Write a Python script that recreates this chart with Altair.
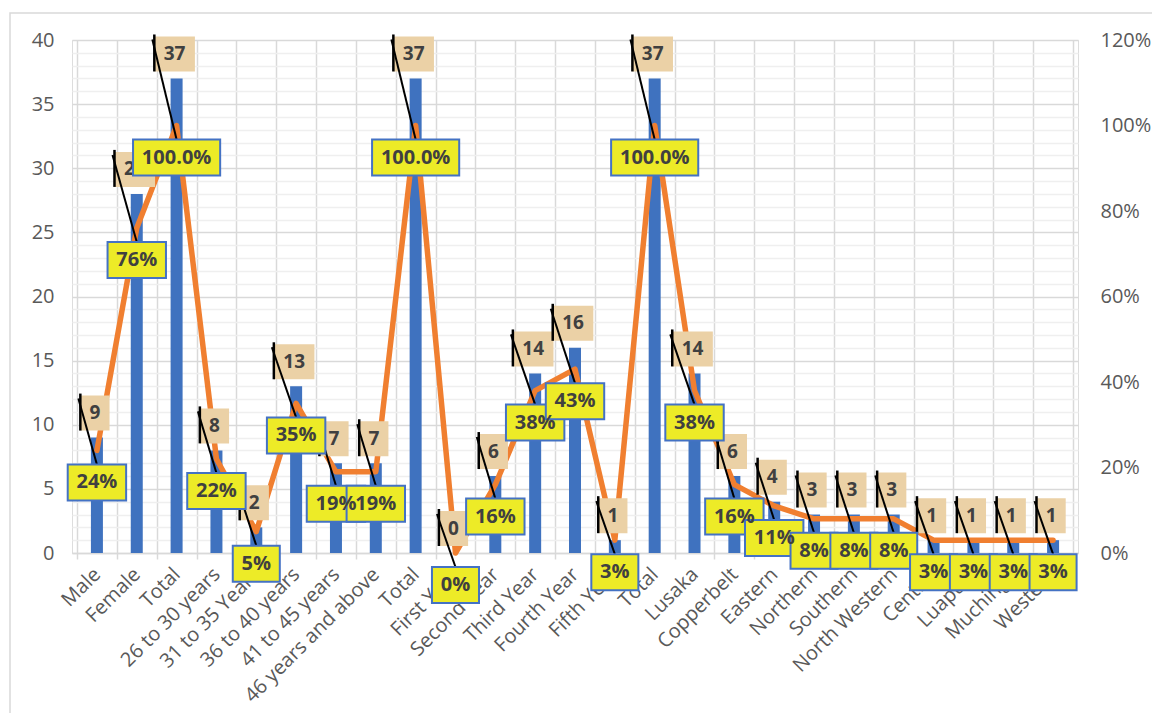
import json
import altair as alt
import pandas as pd

categories = ["Male", "Female", "Total", "26 to 30 years", "31 to 35 Years",
              "36 to 40 years", "41 to 45 years", "46 years and above", "Total",
              "First Year", "Second Year", "Third Year", "Fourth Year", "Fifth Year",
              "Total", "Lusaka", "Copperbelt", "Eastern", "Northern", "Southern",
              "North Western", "Central", "Luapula", "Muchinga", "Western"]
counts = [9, 28, 37, 8, 2, 13, 7, 7, 37, 0, 6, 14, 16, 1, 37, 14, 6, 4, 3, 3, 3, 1, 1, 1, 1]
shares = [0.24, 0.76, 1.00, 0.22, 0.05, 0.35, 0.19, 0.19, 1.00, 0.00, 0.16, 0.38, 0.43,
          0.03, 1.00, 0.38, 0.16, 0.11, 0.08, 0.08, 0.08, 0.03, 0.03, 0.03, 0.03]
share_labels = ["24%", "76%", "100.0%", "22%", "5%", "35%", "19%", "19%", "100.0%", "0%",
                "16%", "38%", "43%", "3%", "100.0%", "38%", "16%", "11%", "8%", "8%", "8%",
                "3%", "3%", "3%", "3%"]

W, H = 1006, 513
N = len(categories)
Y_MAX = 40
SHARE_MAX = 1.2
PX_X = W / N
PX_Y = H / Y_MAX

FONT = "Open Sans"
GREY = "#595959"
BAR = "#3F72BF"
ORANGE = "#F07F30"
TAN = "#EBD1A6"
YELLOW = "#EDEB27"
BORDER = "#4472C4"


def text_px(s):
    return sum(11.5 if ch.isdigit() else 6 if ch == "." else 16 if ch == "%" else 10 for ch in s)


rows = []
for i, (n, s, lab) in enumerate(zip(counts, shares, share_labels)):
    xc = i + 0.5
    ly = s * Y_MAX / SHARE_MAX
    cw = text_px(str(n)) + 18
    pw = text_px(lab) + 20
    cx1 = xc - (cw / 2 + 2) / PX_X
    rows.append(dict(
        xc=xc, count=n, share=s, label=lab, count_label=str(n), line_y=ly,
        cx1=cx1, cx2=cx1 + cw / PX_X, cy1=n + 7 / PX_Y, cy2=n + 42 / PX_Y,
        ctx=cx1 + cw / 2 / PX_X, cty=n + 24.5 / PX_Y,
        px1=xc - pw / 2 / PX_X, px2=xc + pw / 2 / PX_X,
        py1=ly - 50 / PX_Y, py2=ly - 14 / PX_Y, pty=ly - 32 / PX_Y,
        lvy1=n + 7 / PX_Y, lvy2=n + 44 / PX_Y,
        dx1=cx1 - 2 / PX_X, dy1=n + 39 / PX_Y, dx2=xc, dy2=ly - 14 / PX_Y,
    ))
df = pd.DataFrame(rows)

xscale = alt.Scale(domain=[0, N], nice=False, zero=False)
yscale = alt.Scale(domain=[0, Y_MAX], nice=False, zero=True)

names_js = json.dumps(categories)
x_axis = alt.Axis(
    values=[k / 2 for k in range(2 * N + 1)],
    labelExpr=f"(round(datum.value*2) % 2 == 1) ? {names_js}[floor(datum.value)] : ''",
    labelAngle=-45, labelAlign="right", labelBaseline="middle",
    labelFont=FONT, labelFontSize=20, labelColor=GREY, labelLimit=400,
    labelOverlap=False, labelFlush=False, labelBound=False, labelPadding=12,
    tickOpacity={"condition": {"test": "round(datum.value*2) % 2 == 1", "value": 0}, "value": 1},
    gridOpacity={"condition": {"test": "round(datum.value*2) % 2 == 1", "value": 0}, "value": 1},
    tickColor="#D9D9D9", tickWidth=1.5, tickSize=6,
    grid=True, gridColor="#D9D9D9", gridWidth=1.5,
    domain=True, domainColor="#D9D9D9", domainWidth=1.5, title=None,
)
y_axis = alt.Axis(
    values=list(range(0, Y_MAX + 1)),
    labelExpr="datum.value % 5 == 0 ? datum.label : ''",
    labelFont=FONT, labelFontSize=20, labelColor=GREY, labelPadding=18,
    labelOverlap=False,
    ticks=False, domain=False, grid=True,
    gridColor={"condition": {"test": "datum.value % 5 == 0", "value": "#D9D9D9"}, "value": "#EFEFEF"},
    gridWidth=1.5, title=None,
)


def X(field):
    return alt.X(field, type="quantitative", scale=xscale, axis=x_axis)


def Y(field):
    return alt.Y(field, type="quantitative", scale=yscale, axis=y_axis)


base = alt.Chart(df)

bars = base.mark_bar(color=BAR, size=12).encode(x=X("xc"), y=Y("count"))

line = base.mark_line(color=ORANGE, strokeWidth=5.5, interpolate="linear",
                      strokeJoin="round", strokeCap="round").encode(
    x=X("xc"), y=Y("line_y"))

cbox = base.mark_rect(color=TAN).encode(x=X("cx1"), x2="cx2:Q", y=Y("cy1"), y2="cy2:Q")
ctext = base.mark_text(font=FONT, fontSize=19, fontWeight="bold", color="#404040").encode(
    x=X("ctx"), y=Y("cty"), text="count_label:N")
lead_v = base.mark_rule(color="black", strokeWidth=2.5).encode(
    x=X("cx1"), y=Y("lvy1"), y2="lvy2:Q")
lead_d = base.mark_rule(color="black", strokeWidth=2).encode(
    x=X("dx1"), x2="dx2:Q", y=Y("dy1"), y2="dy2:Q")
pbox = base.mark_rect(color=YELLOW, stroke=BORDER, strokeWidth=2).encode(
    x=X("px1"), x2="px2:Q", y=Y("py1"), y2="py2:Q")
ptext = base.mark_text(font=FONT, fontSize=20, fontWeight="bold", color="#404040").encode(
    x=X("xc"), y=Y("pty"), text="label:N")

main = alt.layer(bars, line, cbox, ctext, lead_v, lead_d, pbox, ptext)

right = base.mark_line(opacity=0).encode(
    x=X("xc"),
    y=alt.Y("share:Q", scale=alt.Scale(domain=[0, SHARE_MAX], nice=False),
            axis=alt.Axis(orient="right", values=[0, 0.2, 0.4, 0.6, 0.8, 1.0, 1.2],
                          format=".0%", grid=False, ticks=False, domain=False,
                          labelFont=FONT, labelFontSize=20, labelColor=GREY,
                          labelPadding=22, title=None)),
)

frame = alt.Chart(pd.DataFrame({"k": [0]})).mark_rect(
    filled=False, stroke="#D9D9D9", strokeWidth=1.5
).encode(x=alt.value(-62), x2=alt.value(W + 200), y=alt.value(-27), y2=alt.value(H + 300))

chart = alt.layer(frame, main, right).resolve_scale(y="independent").properties(
    width=W, height=H,
    autosize=alt.AutoSizeParams(type="none"),
    padding={"left": 72, "top": 40, "right": 74, "bottom": 160},
).configure_view(stroke=None).configure(background="white")

chart.save("out.html", embed_options={"renderer": "svg", "actions": False})
